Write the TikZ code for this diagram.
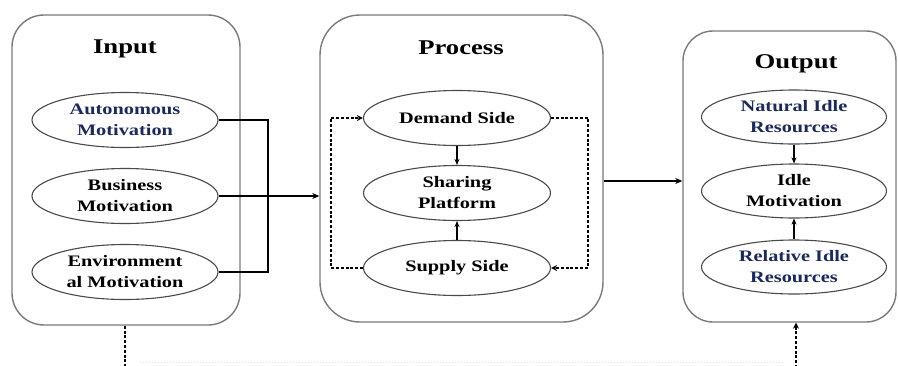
\documentclass[tikz,border=0pt]{standalone}
\usepackage{fontspec}
\setmainfont{Liberation Serif}[FakeStretch=1.27]
\usetikzlibrary{shapes.geometric,arrows.meta,calc}
\definecolor{navy}{HTML}{1C2A58}
\definecolor{boxgray}{HTML}{7A7A7A}
\definecolor{ellgray}{HTML}{4A4A4A}
\begin{document}
\begin{tikzpicture}[x=1pt,y=-1pt,
  bigbox/.style={draw=boxgray,line width=1.4pt,rounded corners=32pt,inner sep=0pt},
  title/.style={font=\fontsize{21}{24}\selectfont\bfseries,anchor=base,inner sep=0pt},
  oval/.style={ellipse,draw=ellgray,line width=1.1pt,minimum width=186pt,minimum height=55pt,inner sep=0pt,align=center,font=\fontsize{16}{21}\selectfont\bfseries},
  conn/.style={line width=1.5pt,black},
  arr/.style={conn,-{Stealth[length=7pt,width=6pt]}},
  dsh/.style={line width=1.4pt,black,dash pattern=on 3pt off 1.8pt},
  darr/.style={dsh,-{Stealth[length=6pt,width=6pt,open]}}
]
\useasboundingbox (0,0) rectangle (898,365);
% boxes
\node[bigbox,minimum width=228pt,minimum height=310pt] (input) at (126,170) {};
\node[bigbox,minimum width=283pt,minimum height=307pt,rounded corners=40pt] (process) at (461.5,168.5) {};
\node[bigbox,minimum width=213pt,minimum height=291pt,rounded corners=30pt] (output) at (789.5,176.5) {};
% titles
\node[title] (tin) at (125,53) {Input};
\node[title] (tpr) at (461,54) {Process};
\node[title] (tout) at (796,68) {Output};
% input ovals
\node[oval,text=navy] (auto) at (125,120) {Autonomous\\Motivation};
\node[oval] (bus) at (125,196) {Business\\Motivation};
\node[oval] (env) at (125,272) {Environment\\al Motivation};
% process ovals
\node[oval,minimum width=187pt] (dem) at (457,118) {Demand Side};
\node[oval,minimum width=187pt] (shr) at (457,193) {Sharing\\Platform};
\node[oval,minimum width=187pt] (sup) at (457,268) {Supply Side};
% output ovals
\node[oval,minimum width=185pt,minimum height=54pt,text=navy] (nat) at (794,117) {Natural Idle\\Resources};
\node[oval,minimum width=185pt,minimum height=54pt] (idl) at (794,191) {Idle\\Motivation};
\node[oval,minimum width=185pt,minimum height=54pt,text=navy] (rel) at (794,267) {Relative Idle\\Resources};
% input connectors
\coordinate (jn) at (268,196);
\draw[conn] (auto.east) -| (jn);
\draw[conn] (env.east) -| (jn);
\draw[arr] (bus.east) -- (bus.east -| process.west);
% process internal
\draw[arr,line width=1.3pt,-{Stealth[length=6pt,width=5pt]}] (dem.south) -- (shr.north);
\draw[arr,line width=1.3pt,-{Stealth[length=6pt,width=5pt]}] (sup.north) -- (shr.south);
\draw[darr] (sup.west) -- ++(-32,0) |- (dem.west);
\draw[darr] (dem.east) -- ++(37,0) |- (sup.east);
% process to output
\draw[arr] ([yshift=-12.5pt]process.east) -- ([yshift=-12.5pt]process.east -| output.west);
% output internal
\draw[arr,line width=1.3pt,-{Stealth[length=6pt,width=5pt]}] (nat.south) -- (idl.north);
\draw[arr,line width=1.3pt,-{Stealth[length=6pt,width=5pt]}] (rel.north) -- (idl.south);
% bottom dashed
\coordinate (ib) at (125,368);
\coordinate (ob) at (796,368);
\draw[dsh] (input.south -| ib) -- (ib);
\draw[darr] (ob) -- (output.south -| ob);
\draw[black!12,line width=1pt,dotted] (140,362) -- (785,362);
\end{tikzpicture}
\end{document}
